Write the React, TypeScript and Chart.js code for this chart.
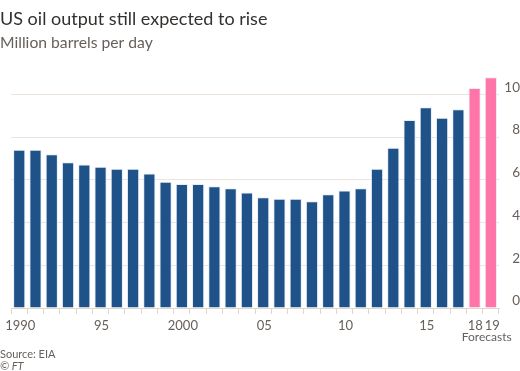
import React, { useEffect, useRef } from "react";
import { Chart, registerables } from "chart.js";

Chart.register(...registerables);

const years = [
  "1990", "1991", "1992", "1993", "1994", "1995", "1996", "1997", "1998", "1999",
  "2000", "2001", "2002", "2003", "2004", "2005", "2006", "2007", "2008", "2009",
  "2010", "2011", "2012", "2013", "2014", "2015", "2016", "2017", "2018", "2019",
];
const tickLabels = [
  "1990", "", "", "", "", "95", "", "", "", "",
  "2000", "", "", "", "", "05", "", "", "", "",
  "10", "", "", "", "", "15", "", "", "18\u200A", "\u200A19",
];
const output = [
  7.41, 7.41, 7.2, 6.82, 6.72, 6.61, 6.52, 6.52, 6.3, 5.91,
  5.81, 5.81, 5.7, 5.61, 5.41, 5.18, 5.11, 5.11, 5.0, 5.32,
  5.5, 5.6, 6.52, 7.5, 8.8, 9.4, 8.91, 9.3, 10.3, 10.8,
];
const isForecast = [
  false, false, false, false, false, false, false, false, false, false,
  false, false, false, false, false, false, false, false, false, false,
  false, false, false, false, false, false, false, false, true, true,
];
const yTicks = [0, 2, 4, 6, 8, 10];

const FONT = "Lato, 'Noto Sans', sans-serif";
const BLUE = "#1e5289";
const PINK = "#ff75a8";
const GRID = "#ece4dc";
const AXIS = "#e2d6ca";
const TEXT = "#33302e";
const MUTED = "#66605c";

const textPlugin = {
  id: "ftText",
  afterDraw(chart: any) {
    const ctx = chart.ctx;
    const x = chart.scales.x;
    ctx.save();
    ctx.textBaseline = "alphabetic";
    ctx.textAlign = "left";
    ctx.fillStyle = TEXT;
    ctx.font = `18px ${FONT}`;
    ctx.fillText("US oil output still expected to rise", 0, 25);
    ctx.fillStyle = MUTED;
    ctx.font = `15.7px ${FONT}`;
    ctx.fillText("Million barrels per day", 0, 48);
    ctx.font = `11px ${FONT}`;
    ctx.fillText("Source: EIA", 0, 358);
    ctx.font = `italic 11px ${FONT}`;
    ctx.fillText("\u00A9 FT", 0, 370);
    const mid = (x.getPixelForValue(28) + x.getPixelForValue(29)) / 2 + 4;
    ctx.textAlign = "center";
    ctx.font = `12px ${FONT}`;
    ctx.fillText("Forecasts", mid, 341);
    ctx.restore();
  },
};

export default function App() {
  const ref = useRef<HTMLCanvasElement>(null);
  useEffect(() => {
    if (!ref.current) return;
    const chart = new Chart(ref.current, {
      type: "bar",
      data: {
        labels: years,
        datasets: [
          {
            data: output,
            backgroundColor: isForecast.map((f) => (f ? PINK : BLUE)),
            borderColor: "rgba(220,230,245,0.7)",
            borderWidth: 1,
            barPercentage: 0.8,
            categoryPercentage: 0.94,
          },
        ],
      },
      options: {
        responsive: false,
        animation: false,
        layout: { padding: { top: 73, left: 9, right: 0, bottom: 33 } },
        plugins: { legend: { display: false }, tooltip: { enabled: false }, title: { display: false } },
        scales: {
          x: {
            grid: {
              offset: true,
              drawOnChartArea: false,
              drawTicks: true,
              tickLength: 6,
              color: AXIS,
            },
            border: { display: true, color: AXIS },
            ticks: {
              autoSkip: false,
              maxRotation: 0,
              padding: 4,
              labelOffset: 1,
              color: MUTED,
              font: { family: FONT, size: 13 },
              callback: (_v: any, i: number) => tickLabels[i],
            },
            afterFit: (s: any) => {
              s.height = 30;
            },
          },
          y: {
            position: "right",
            min: 0,
            max: 11,
            afterBuildTicks: (s: any) => {
              s.ticks = yTicks.map((v) => ({ value: v }));
            },
            grid: { color: GRID, drawTicks: false },
            border: { display: false },
            ticks: {
              crossAlign: "far",
              padding: 2,
              labelOffset: -7,
              color: MUTED,
              font: { family: FONT, size: 13.5 },
            },
            afterFit: (s: any) => {
              s.width = 21;
            },
          },
        },
      },
      plugins: [textPlugin],
    });
    return () => chart.destroy();
  }, []);
  return (
    <div style={{ position: "fixed", left: 0, top: 0, width: 520, height: 371, background: "#fff" }}>
      <canvas ref={ref} width={520} height={371} style={{ display: "block" }} />
    </div>
  );
}
